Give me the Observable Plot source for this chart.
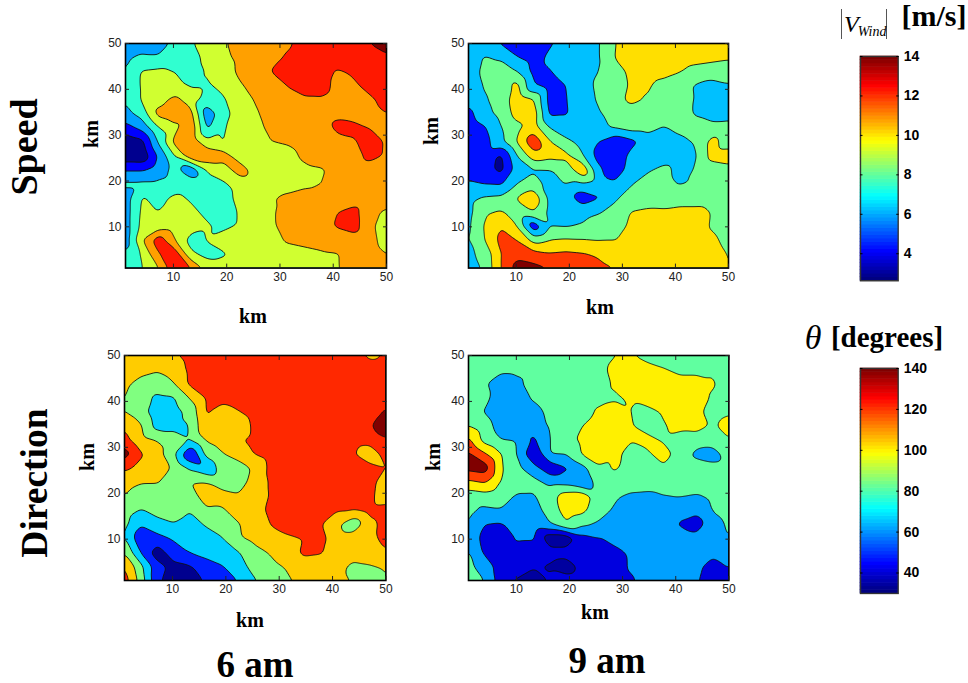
<!DOCTYPE html>
<html>
<head>
<meta charset="utf-8">
<script src="https://cdn.jsdelivr.net/npm/d3@7"></script>
<script src="https://cdn.jsdelivr.net/npm/@observablehq/plot@0.6"></script>
<style>
html,body{margin:0;padding:0;background:#fff;}
#page{position:relative;width:968px;height:683px;overflow:hidden;background:#fff;font-family:"Liberation Serif",serif;color:#000;}
.t{position:absolute;font-weight:bold;white-space:nowrap;transform:translate(-50%,-50%);line-height:1;}
.r{transform:translate(-50%,-50%) rotate(-90deg);}
</style>
</head>
<body>
<div id="page"></div>
<script>
// Band index of each contour level on a 17 x 17 grid (km 1..50, rows from km 50 down to km 1)
const speed6am = [
[2.5,2.5,2.2,3.4,3.9,4.4,4.9,5.3,5.5,5.7,5.9,6.3,6.5,6.6,6.8,7.0,7.5],
[2.9,3.2,3.2,3.5,3.7,4.2,4.8,5.2,5.5,5.8,6.1,6.4,6.5,6.5,6.6,6.7,6.8],
[3.0,4.1,4.2,4.0,3.7,4.05,4.5,5.2,5.5,6.05,6.4,6.5,6.4,5.9,6.1,6.4,6.6],
[3.3,4.1,4.3,4.2,3.9,3.9,4.2,4.9,5.3,5.6,6.05,6.3,6.4,5.7,5.9,6.2,6.5],
[3.1,4.1,4.6,5.3,4.5,3.6,3.9,4.5,5.1,5.5,5.7,5.9,5.9,5.6,5.6,5.9,6.2],
[2.7,3.4,5.3,5.7,5.4,2.3,3.6,4.5,4.9,5.4,5.5,5.6,5.7,5.85,5.7,5.8,6.0],
[1.6,2.3,3.95,4.7,5.8,2.8,3.9,4.5,4.8,5.2,5.4,5.5,5.6,6.2,6.2,5.95,5.7],
[0.3,0.7,3.1,5.3,5.7,4.3,3.95,4.6,4.9,5.0,5.1,5.4,5.6,5.7,5.9,6.4,5.9],
[0.3,0.2,2.1,3.98,5.7,5.8,5.5,4.4,4.6,4.6,4.7,5.2,5.5,5.7,5.6,6.3,5.9],
[1.9,1.9,2.5,3.3,2.2,4.1,4.4,5.6,4.5,4.5,4.5,4.8,4.9,5.3,5.5,5.5,5.7],
[3.2,3.2,3.2,3.4,3.6,3.7,3.9,4.3,4.4,4.5,4.6,4.8,5.0,5.3,5.5,5.7,6.0],
[2.5,4.1,3.7,4.2,3.9,3.5,3.6,4.3,4.5,4.95,5.2,5.4,5.4,5.4,5.5,5.5,5.6],
[2.5,4.2,4.0,4.4,4.2,3.8,3.5,4.1,4.5,4.9,5.4,5.5,5.6,6.0,6.3,5.3,4.8],
[2.5,4.3,4.4,4.5,4.5,4.1,3.8,4.1,4.5,4.9,5.3,5.5,5.7,6.1,6.4,5.2,4.5],
[2.5,4.9,6.6,5.0,3.6,4.05,4.4,4.5,4.6,4.8,5.1,5.2,5.3,5.5,5.6,5.3,4.6],
[3.1,4.1,5.9,6.7,4.2,3.7,3.9,4.3,4.5,4.6,4.7,4.8,4.9,4.95,5.4,5.4,5.0],
[3.3,3.95,4.9,6.7,6.1,4.6,4.4,4.5,4.6,4.7,4.7,4.8,4.8,4.95,5.3,5.4,5.2]];
const speed9am = [
[2.5,2.4,1.9,1.6,1.5,1.9,2.3,2.6,2.9,4.0,4.3,4.4,4.5,4.5,4.6,4.8,5.2],
[2.5,3.1,2.9,2.0,1.6,2.2,2.5,2.7,2.9,4.05,4.3,4.4,4.5,4.4,4.3,4.2,4.1],
[2.4,3.3,3.4,3.0,1.7,1.95,2.4,2.6,3.0,3.6,4.2,4.4,4.3,4.05,3.7,3.6,3.5],
[2.3,3.1,3.4,4.3,2.0,1.6,2.0,2.6,3.2,3.6,4.1,4.1,3.7,3.4,2.9,2.6,2.9],
[2.3,2.9,3.4,4.6,4.1,1.6,1.95,2.6,3.1,3.7,4.2,3.95,3.6,3.3,2.95,2.6,2.7],
[1.7,2.7,3.3,4.4,4.6,1.8,1.9,2.6,2.9,3.3,3.6,3.5,3.4,3.2,2.95,2.6,2.7],
[1.4,1.9,2.95,3.7,4.5,2.95,2.5,2.5,2.8,3.1,3.4,3.4,2.95,3.1,3.2,3.3,3.3],
[1.4,1.6,2.8,4.1,5.8,4.1,3.2,2.8,2.0,1.2,1.7,2.4,2.8,2.9,3.05,4.4,3.4],
[1.3,1.5,0.8,3.0,4.6,4.3,4.3,3.1,1.6,1.2,2.3,2.7,2.6,2.7,2.9,4.4,4.6],
[1.7,1.4,0.7,2.5,2.9,2.95,3.3,4.9,2.2,1.3,2.5,2.9,3.2,2.8,3.05,3.4,3.6],
[2.1,1.95,1.9,3.0,3.4,2.7,3.05,2.9,2.5,2.2,2.95,3.3,3.2,2.95,3.05,3.3,3.5],
[2.7,3.1,3.2,4.1,4.8,2.7,2.5,1.3,1.9,2.9,3.3,3.4,3.5,3.5,3.5,3.6,3.6],
[2.7,3.8,4.1,3.6,4.0,2.7,2.7,2.8,2.95,3.2,4.05,4.2,4.15,4.3,4.3,3.95,3.7],
[2.8,4.1,4.95,3.98,1.2,2.95,2.9,3.05,3.3,3.5,4.2,4.4,4.5,4.5,4.4,3.9,3.5],
[2.9,4.0,5.3,5.0,3.6,4.0,4.1,4.05,3.95,3.97,4.3,4.4,4.5,4.5,4.4,4.2,3.7],
[2.8,3.3,5.0,5.7,5.4,5.1,5.2,5.1,4.9,4.6,4.6,4.6,4.6,4.6,4.5,4.4,3.95],
[2.4,3.2,5.0,6.4,6.3,6.0,5.6,5.4,5.2,5.0,4.7,4.7,4.7,4.6,4.5,4.3,4.0]];
const direction6am = [
[4.3,4.4,4.6,4.9,5.3,5.5,5.5,5.5,5.5,5.5,5.5,5.5,5.5,5.5,5.3,4.8,5.05],
[4.3,4.3,4.1,4.4,5.2,5.5,5.6,5.6,5.6,5.6,5.6,5.6,5.6,5.6,5.6,5.5,5.4],
[4.2,3.7,3.5,3.95,5.2,5.5,5.6,5.6,5.6,5.6,5.6,5.6,5.6,5.6,5.6,5.5,5.5],
[4.05,3.4,2.8,2.9,4.05,5.1,5.3,5.5,5.6,5.6,5.6,5.6,5.6,5.6,5.6,5.5,5.5],
[4.0,3.4,2.4,2.6,3.3,5.1,4.6,4.95,5.5,5.6,5.6,5.6,5.6,5.6,5.6,5.5,6.1],
[4.9,4.1,2.6,2.7,3.0,4.95,4.3,4.2,5.3,5.5,5.6,5.6,5.6,5.6,5.6,5.9,6.6],
[5.3,4.3,3.95,3.5,3.0,4.1,4.5,4.9,5.3,5.5,5.6,5.6,5.6,5.6,5.5,5.5,5.9],
[6.5,5.1,4.4,3.2,1.0,3.3,3.95,4.5,5.05,5.4,5.5,5.5,5.5,5.5,5.1,4.2,5.5],
[5.2,4.8,4.4,3.9,2.8,2.1,3.5,3.5,4.2,5.3,5.5,5.5,5.5,5.5,5.5,5.4,5.0],
[4.3,4.05,4.05,3.6,4.0,4.05,3.6,3.6,4.4,5.15,5.5,5.5,5.5,5.5,5.5,5.4,4.4],
[4.0,3.6,3.5,3.5,3.8,4.2,4.3,4.1,4.5,5.1,5.4,5.5,5.5,5.4,5.4,5.3,4.3],
[3.5,2.95,3.2,3.5,3.05,3.95,3.9,4.4,4.7,5.2,5.4,5.5,5.4,5.1,5.05,5.3,5.5],
[3.3,2.1,2.8,2.95,2.6,3.1,3.5,3.95,4.5,5.05,5.3,5.4,5.1,4.2,3.2,4.7,5.3],
[3.1,1.2,1.6,2.1,2.4,2.6,2.95,3.9,4.3,4.7,4.9,5.05,5.3,4.5,4.6,4.8,5.2],
[3.95,1.9,0.4,1.6,2.05,2.4,2.6,2.95,3.7,4.1,4.5,5.2,5.1,4.6,4.4,4.6,4.95],
[5.05,3.3,1.4,0.7,0.9,1.5,1.95,2.6,3.4,3.8,4.1,4.5,4.5,4.3,3.8,3.9,4.1],
[5.5,3.6,1.2,0.5,0.6,1.1,1.5,2.05,2.95,3.5,3.9,4.2,4.3,4.2,3.95,3.6,3.95]];
const direction9am = [
[3.3,3.3,3.4,3.4,3.5,3.5,3.5,3.6,3.7,3.98,4.05,3.7,3.6,3.5,3.5,3.5,3.4],
[3.3,3.2,3.2,3.2,3.3,3.4,3.5,3.6,3.8,4.2,4.5,4.3,4.05,3.8,3.8,3.9,3.4],
[3.5,3.1,2.5,2.8,3.4,3.5,3.5,3.6,3.7,4.1,4.4,4.5,4.5,4.3,4.3,4.1,3.6],
[3.4,3.3,2.4,2.6,3.1,3.5,3.6,3.7,3.8,3.9,4.1,4.5,4.5,4.5,4.4,3.9,3.5],
[3.3,2.95,2.4,2.5,2.7,3.2,3.5,3.7,4.1,4.3,4.0,3.7,4.1,4.3,4.2,3.7,3.9],
[3.98,3.4,2.6,2.4,2.6,3.1,3.6,4.0,4.3,4.3,4.05,3.7,3.95,4.2,4.3,3.9,4.3],
[5.2,3.6,3.0,2.9,1.8,3.0,3.7,4.2,4.4,4.3,4.05,4.2,3.9,3.7,3.6,3.7,3.95],
[6.2,5.1,4.0,2.95,1.0,3.0,3.05,4.1,5.2,4.2,3.7,3.9,4.3,3.7,2.7,2.4,3.6],
[6.3,6.5,4.1,3.2,2.4,1.3,1.9,2.7,3.7,4.1,3.7,3.6,3.9,3.98,3.6,3.4,3.5],
[4.8,5.1,3.9,3.4,3.3,2.7,2.6,2.0,3.5,3.7,3.6,3.6,3.6,3.6,3.6,3.6,3.6],
[3.4,3.6,3.3,2.9,2.9,3.6,4.5,4.6,3.5,3.1,2.8,2.7,2.95,3.05,2.9,3.2,3.4],
[3.3,2.8,2.95,2.6,2.7,3.3,4.5,4.3,3.3,2.9,2.5,2.5,2.5,2.3,2.3,3.05,3.3],
[2.98,2.0,1.9,2.4,2.5,2.95,3.9,3.2,2.9,2.6,2.5,2.5,2.5,1.9,1.4,2.7,3.1],
[2.8,1.6,1.4,2.1,2.1,0.3,0.3,1.6,1.95,2.2,2.4,2.5,2.6,2.6,2.4,2.7,3.0],
[3.1,1.8,1.6,1.7,1.5,1.4,1.4,1.5,1.6,1.85,2.1,2.5,2.6,2.6,2.4,2.2,2.5],
[3.2,2.6,1.5,1.5,1.1,0.9,0.5,1.3,1.5,1.7,2.1,2.4,2.5,2.5,2.2,1.7,2.05],
[3.95,2.95,1.5,0.9,0.5,1.1,1.4,1.5,1.6,1.7,1.9,2.3,2.5,2.4,2.1,1.5,1.3]];

const colorsSpeed6 = ["#00008f","#0000ff","#00a0ff","#30ffd0","#d0ff30","#ffa000","#ff1800","#800000"];
const colorsSpeed9 = ["#00008f","#0010ff","#00c0ff","#70ff90","#ffdf00","#ff3800","#800000"];
const colorsDir6 = ["#00008f","#0020ff","#00d0ff","#80ff80","#ffcc00","#ff2800","#800000"];
const colorsDir9 = ["#00009f","#0000df","#00a0ff","#60ffa0","#fff000","#ff4000","#800000"];
const axisTicks = [10,20,30,40,50];
const speedTicks = [4,6,8,10,12,14];
const directionTicks = [40,60,80,100,120,140];
const speedRange = [2.63,14];
const directionRange = [30,140];

const page = document.getElementById("page");
const sans = "'Liberation Sans',Arial,sans-serif";
const step = 49/16;

function place(node,left,top){
  node.style.position="absolute";node.style.left=left+"px";node.style.top=top+"px";
  page.appendChild(node);
}
function label(text,x,y,size,rot){
  const d=document.createElement("div");
  d.className="t"+(rot?" r":"");
  d.textContent=text;
  d.style.left=x+"px";d.style.top=y+"px";d.style.fontSize=size+"px";
  page.appendChild(d);
  return d;
}

function panel(rows,colors,left,top,right,bottom){
  const m={l:32,r:14,t:8,b:22};
  const w=right-left,h=bottom-top;
  const thresholds=colors.map((_,i)=>i);
  const common={ticks:axisTicks,tickSize:-4,tickPadding:8,label:null,fontSize:12};
  const points=rows.flatMap((row,j)=>row.map((v,i)=>({x:1+i*step,y:50-j*step,v})));
  const svg=Plot.plot({
    width:w+m.l+m.r,height:h+m.t+m.b,
    marginLeft:m.l,marginRight:m.r,marginTop:m.t,marginBottom:m.b,
    style:{fontFamily:sans,fontSize:"12px",background:"transparent",color:"#222",overflow:"visible"},
    x:{domain:[1,50]},
    y:{domain:[1,50]},
    color:{type:"ordinal",domain:thresholds,range:colors},
    marks:[
      Plot.contour(points,{
        x:"x",y:"y",value:"v",interpolate:"barycentric",pixelSize:1,blur:2,
        thresholds,fill:"value",stroke:"#111",strokeWidth:0.9,clip:true
      }),
      Plot.frame({stroke:"#000",strokeWidth:1.6}),
      Plot.axisX({...common,anchor:"bottom"}),
      Plot.axisY({...common,anchor:"left"}),
      Plot.axisX({...common,anchor:"top",tickFormat:()=>""}),
      Plot.axisY({...common,anchor:"right",tickFormat:()=>""})
    ]
  });
  place(svg,left-m.l,top-m.t);
}

function jet(t){
  const f=v=>Math.max(0,Math.min(1,v));
  const r=f(Math.min(4*t-1.5,-4*t+4.5)),g=f(Math.min(4*t-0.5,-4*t+3.5)),b=f(Math.min(4*t+0.5,-4*t+2.5));
  return `rgb(${Math.round(r*255)},${Math.round(g*255)},${Math.round(b*255)})`;
}
function colorbar(range,ticks,left,top,right,bottom){
  const m={l:4,r:50,t:8,b:8};
  const n=64,[a,b]=range;
  const bands=d3.range(n).map(i=>({y1:a+(b-a)*i/n,y2:a+(b-a)*(i+1)/n,i}));
  const svg=Plot.plot({
    width:right-left+m.l+m.r,height:bottom-top+m.t+m.b,
    marginLeft:m.l,marginRight:m.r,marginTop:m.t,marginBottom:m.b,
    style:{fontFamily:sans,fontSize:"14px",background:"transparent",color:"#000",overflow:"visible"},
    x:{domain:[0,1],axis:null},
    y:{domain:range},
    color:{type:"linear",domain:[0,n-1],interpolate:t=>jet(t)},
    marks:[
      Plot.rect(bands,{x1:0,x2:1,y1:"y1",y2:"y2",fill:"i",inset:-0.3}),
      Plot.frame({stroke:"#333",strokeWidth:1.4}),
      Plot.axisY({anchor:"right",ticks,tickSize:-2.5,tickPadding:8,label:null,fontSize:14}),
      Plot.axisY({anchor:"left",ticks,tickSize:-2.5,tickFormat:()=>"",label:null})
    ]
  });
  svg.querySelectorAll("text").forEach(t=>t.style.fontWeight="bold");
  place(svg,left-m.l,top-m.t);
}

panel(speed6am,colorsSpeed6,124.7,42.7,385.7,267.3);
panel(speed9am,colorsSpeed9,468.3,42.7,728.3,267.3);
panel(direction6am,colorsDir6,124.3,355.3,385.7,580.3);
panel(direction9am,colorsDir9,468.3,355.3,728.7,580.3);
colorbar(speedRange,speedTicks,860,55.7,897.7,280);
colorbar(directionRange,directionTicks,860,367.7,897.7,592.7);

label("km",253,316,20);
label("km",600,307,20);
label("km",250,620,20);
label("km",595,612,20);
label("km",91,134,20,true);
label("km",431,131,20,true);
label("km",87,457,20,true);
label("km",433,457,20,true);
label("Speed",24,147,38,true);
label("Direction",35,483,37.5,true);
label("6 am",255,664,37);
label("9 am",607,660,37);
label("[m/s]",934,16,30);
label("[degrees]",887,337,29);
const th=label("θ",813,338,34);
th.style.fontStyle="italic";th.style.fontWeight="normal";

const vw=document.createElement("div");
vw.style.cssText="position:absolute;left:841px;top:9px;width:46px;height:30px;border-left:1px solid #555;border-right:1px solid #555;font-style:italic;font-size:24px;line-height:30px;white-space:nowrap;padding-left:2px;box-sizing:border-box;";
vw.innerHTML='V<span style="font-size:14px;position:relative;top:4px;left:-1px;">Wind</span>';
page.appendChild(vw);
</script>
</body>
</html>
